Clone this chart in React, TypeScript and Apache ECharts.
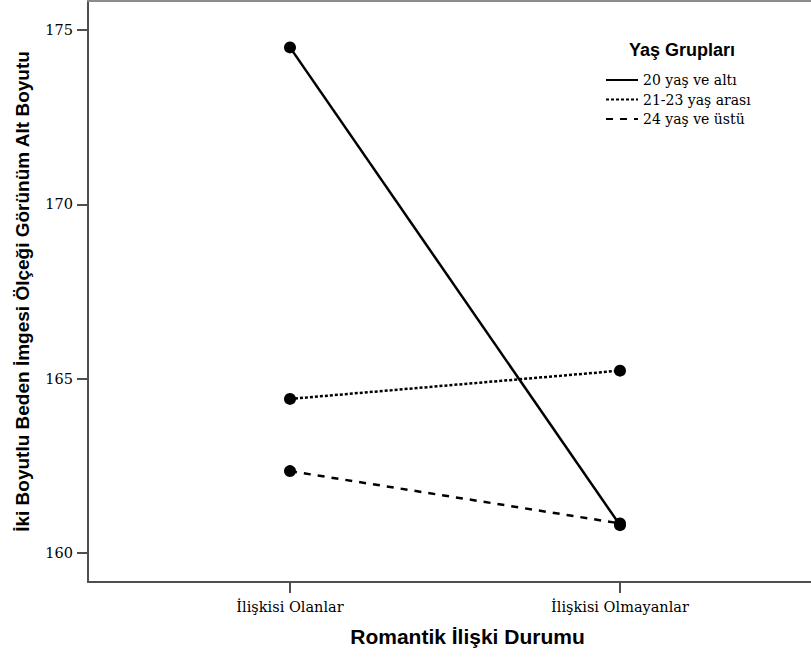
import React, { useEffect, useRef } from "react";
import * as echarts from "echarts";

const categories = ["İlişkisi Olanlar", "İlişkisi Olmayanlar"];
const categoryPositions = [0, 1];
const seriesNames = ["20 yaş ve altı", "21-23 yaş arası", "24 yaş ve üstü"];
const values20 = [174.5, 160.8];
const values21 = [164.42, 165.23];
const values24 = [162.35, 160.85];
const yTicks = [160, 165, 170, 175];
const xTitle = "Romantik İlişki Durumu";
const yTitle = "İki Boyutlu Beden İmgesi Ölçeği Görünüm Alt Boyutu";
const legendTitle = "Yaş Grupları";

const serif = "'DejaVu Serif', serif";
const sans = "'Liberation Sans', Arial, sans-serif";

export default function App() {
  const ref = useRef<HTMLDivElement>(null);
  useEffect(() => {
    if (!ref.current) return;
    const chart = echarts.init(ref.current, undefined, { renderer: "svg" });
    const lineTypes: any[] = ["solid", [3, 2], [7, 7]];
    const allValues = [values20, values21, values24];
    const legendText = { fontFamily: serif, fontSize: 14, color: "#000" };
    const series = seriesNames.map((name, i) => ({
      name,
      type: "line",
      xAxisIndex: 0,
      data: allValues[i].map((v, j) => [categoryPositions[j], v]),
      symbol: "circle",
      symbolSize: 12,
      itemStyle: { color: "#000" },
      lineStyle: { color: "#000", width: 2.5, type: lineTypes[i] },
    }));
    chart.setOption({
      animation: false,
      backgroundColor: "#fff",
      textStyle: { fontFamily: serif },
      grid: { left: 88, right: 0, top: 1, bottom: 75, containLabel: false },
      title: {
        text: legendTitle,
        left: 624,
        top: 36,
        textStyle: { fontFamily: sans, fontWeight: "bold", fontSize: 18, color: "#000" },
      },
      legend: {
        orient: "vertical",
        left: 600,
        top: 68,
        itemWidth: 32,
        itemHeight: 14,
        itemGap: 5.5,
        itemStyle: { opacity: 0 },
        textStyle: legendText,
        data: seriesNames.map((name) => ({ name, textStyle: legendText })),
      },
      xAxis: [
        {
          type: "value",
          min: -0.6121,
          max: 1.5788,
          position: "bottom",
          name: xTitle,
          nameLocation: "middle",
          nameGap: 44,
          nameTextStyle: {
            fontFamily: sans,
            fontWeight: "bold",
            fontSize: 21,
            color: "#000",
            padding: [0, 0, 0, 36],
          },
          axisLine: { show: true, onZero: false, lineStyle: { color: "#4f4f4f", width: 2 } },
          axisTick: {
            show: true,
            inside: false,
            length: 11,
            customValues: categoryPositions,
            lineStyle: { color: "#4f4f4f", width: 2 },
          },
          axisLabel: {
            customValues: categoryPositions,
            formatter: (v: number) => categories[Math.round(v)] ?? "",
            fontFamily: serif,
            fontSize: 14.5,
            color: "#000",
            margin: 17,
          },
          splitLine: { show: false },
        },
        {
          type: "value",
          min: -0.6121,
          max: 1.5788,
          position: "top",
          axisLine: { show: true, onZero: false, lineStyle: { color: "#8c8c8c", width: 2 } },
          axisTick: { show: false },
          axisLabel: { show: false },
          splitLine: { show: false },
        },
      ],
      yAxis: {
        type: "value",
        min: 159.17,
        max: 175.83,
        position: "left",
        name: yTitle,
        nameLocation: "middle",
        nameRotate: 90,
        nameGap: 56,
        nameTextStyle: { fontFamily: sans, fontWeight: "bold", fontSize: 19, color: "#000" },
        axisLine: { show: true, onZero: false, lineStyle: { color: "#4f4f4f", width: 2 } },
        axisTick: {
          show: true,
          inside: false,
          length: 11,
          customValues: yTicks,
          lineStyle: { color: "#4f4f4f", width: 2 },
        },
        axisLabel: {
          customValues: yTicks,
          fontFamily: serif,
          fontSize: 14.5,
          color: "#000",
          margin: 15,
        },
        splitLine: { show: false },
      },
      series,
    });
    return () => chart.dispose();
  }, []);
  return (
    <div
      ref={ref}
      style={{ position: "absolute", left: 0, top: 0, width: 811, height: 657 }}
    />
  );
}
